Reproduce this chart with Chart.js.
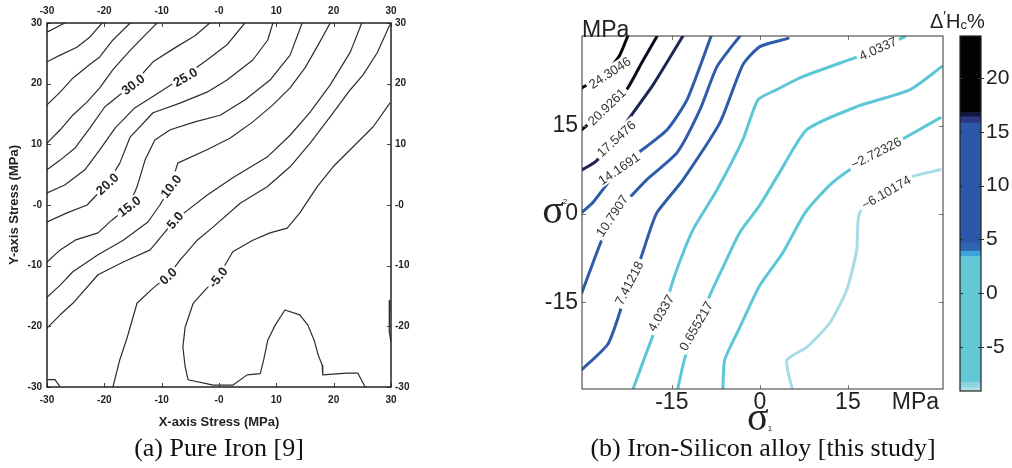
<!DOCTYPE html>
<html>
<head>
<meta charset="utf-8">
<script src="https://cdn.jsdelivr.net/npm/chart.js@4.4.1/dist/chart.umd.min.js"></script>
<style>
  html, body { margin: 0; padding: 0; background: #fff; }
  #page { position: relative; width: 1012px; height: 468px; overflow: hidden; }
  #page canvas { position: absolute; top: 0; }
  .cap { position: absolute; top: 434px; width: 420px; text-align: center; white-space: nowrap;
         font: 26px "Liberation Serif", "Times New Roman", serif; color: #111; line-height: 28px; }
</style>
</head>
<body>
<div id="page">
  <canvas id="iron" width="430" height="440" style="left:0"></canvas>
  <canvas id="alloy" width="440" height="440" style="left:520px"></canvas>
  <canvas id="cbar" width="92" height="440" style="left:920px"></canvas>
  <div class="cap" style="left:9px">(a) Pure Iron [9]</div>
  <div class="cap" style="left:553px">(b) Iron-Silicon alloy [this study]</div>
</div>
<script>
// ---- (a) pure iron: contour lines, [x stress, y stress] in MPa ----
var ironTicks = [-30, -20, -10, 0, 10, 20, 30];
var ironLevels = [50, 45, 40, 35, 30, 25, 20, 15, 10, 5, 0, -5];
var iron50 = [[-30, 28.5], [-26.9, 30]];
var iron45 = [[-30, 23.6], [-27.7, 24.7], [-24.8, 26.0], [-22.5, 27.7], [-20.4, 30]];
var iron40 = [[-30, 16.5], [-27.7, 18.6], [-25.5, 20.9], [-22.5, 23.2], [-20.8, 24.4], [-18.5, 27.2], [-15.5, 30]];
var iron35 = [[-30, 10.2], [-27.7, 12.4], [-25.5, 14.8], [-23.0, 17.0], [-20.8, 19.3], [-18.5, 22.3], [-15.5, 25.5], [-12.9, 28.0], [-10.8, 30]];
var iron30 = [[-30, 5.8], [-27.7, 7.4], [-25.1, 9.4], [-22.5, 12.7], [-19.9, 16.2], [-15.0, 19.9], [-11.5, 23.6], [-7.7, 25.9], [-4.2, 27.9], [-1.6, 30]];
var iron25 = [[-30, 2.0], [-26.9, 3.3], [-23.4, 5.8], [-20.8, 9.1], [-18.1, 12.7], [-14.7, 16.0], [-11.2, 18.1], [-5.9, 21.3], [-2.1, 23.9], [1.4, 26.4], [4.5, 30]];
var iron20 = [[-30, -2.8], [-26.5, -1.3], [-23.0, 0], [-19.5, 3.5], [-17.3, 6.9], [-15.5, 11.2], [-11.5, 15.2], [-6.8, 16.8], [-2.1, 18.6], [1.4, 20.6], [5.9, 23.9], [8.5, 27.2], [9.4, 30]];
var iron15 = [[-30, -9.4], [-27.7, -7.4], [-25.1, -5.8], [-21.1, -4.6], [-18.7, -2.5], [-15.7, -0.2], [-14.3, 3.0], [-12.9, 7.4], [-11.2, 10.7], [-8.5, 12.4], [-4.2, 13.7], [0.2, 14.8], [4.5, 17.3], [8.9, 20.6], [12.4, 24.7], [14.5, 30]];
var iron10 = [[-30, -15.2], [-27.7, -13.2], [-25.5, -11.0], [-21.1, -8.2], [-16.7, -5.8], [-12.4, -2.8], [-10.3, 0], [-8.4, 3.1], [-7.2, 6.9], [-2.1, 9.1], [1.9, 11.0], [5.9, 13.7], [9.4, 16.5], [12.4, 19.3], [15.0, 22.6], [17.3, 26.4], [19.4, 30]];
var iron5 = [[-30, -20.3], [-27.7, -18.1], [-25.5, -16.2], [-21.1, -11.5], [-16.7, -9.4], [-12.0, -7.4], [-9.8, -4.9], [-7.7, -2.5], [-5.4, -0.8], [-2.1, 1.6], [2.4, 4.5], [8.4, 7.9], [12.4, 11.5], [15.9, 15.3], [19.4, 19.8], [22.9, 25.2], [24.9, 30]];
var iron0 = [[-18.5, -30], [-17.3, -25.5], [-16.0, -21.8], [-14.3, -16.2], [-11.5, -13.7], [-8.9, -11.7], [-6.8, -9.1], [-3.8, -5.8], [-1.0, -3.6], [3.7, 0.3], [8.4, 3.0], [12.4, 6.3], [15.9, 10.2], [19.9, 15.2], [22.9, 19.0], [25.1, 21.4], [27.6, 25.1], [29.8, 29.7]];
var ironM5 = [[29.8, 16.8], [26.9, 12.9], [23.4, 9.6], [19.9, 6.3], [17.1, 3.0], [14.1, -1.3], [11.9, -3.8], [8.9, -4.6], [5.9, -5.8], [2.4, -7.7], [-0.2, -11.9], [-2.4, -14.0], [-4.5, -16.2], [-5.9, -20.1], [-6.3, -23.4], [-5.9, -26.7], [-5.4, -28.8], [-1.0, -29.7], [2.4, -29.7], [4.9, -28.0], [7.2, -27.8], [7.8, -25.5], [8.5, -22.3], [9.8, -19.8], [11.5, -17.3], [14.1, -18.1], [15.5, -19.8], [16.6, -22.3], [17.3, -24.7], [18.0, -26.4], [18.1, -28.0], [22.3, -27.7], [24.2, -27.7], [25.5, -30]];
var ironCorner = [[-30, -28.8], [-28.6, -28.8], [-27.7, -30]];
var ironEdge = [[29.8, -15.7], [29.7, -18.6], [29.7, -20.9], [30, -22.6]];
var ironLabelText = ['30.0', '25.0', '20.0', '15.0', '10.0', '5.0', '0.0', '-5.0'];
var ironLabelX = [-15.0, -5.9, -19.5, -15.7, -8.4, -7.7, -8.9, -0.2];
var ironLabelY = [19.9, 21.1, 3.5, -0.2, 3.1, -2.5, -11.7, -11.9];
var ironLabelAngle = [-37, -30, -42, -37, -52, -50, -43, -52];

// ---- (b) iron-silicon alloy: contour lines, [sigma1, sigma2] in MPa ----
var alloyTicks = [-15, 0, 15];
var alloyUnitTick = 26.5;
var alloyLevels = [24.3046, 20.9261, 17.5476, 14.1691, 10.7907, 7.41218, 4.0337, 0.655217, -2.72326, -6.10174];
var alloy243 = [[-30.3, 21.4], [-26.4, 23.8], [-23.9, 26.9], [-22.5, 30.2]];
var alloy209 = [[-30.3, 14.3], [-26.1, 18.0], [-22.7, 21.1], [-20.1, 25.7], [-17.5, 30.2]];
var alloy175 = [[-30.3, 7.5], [-28.1, 8.8], [-24.7, 12.2], [-22.7, 15.6], [-18.2, 21.9], [-13.1, 30.2]];
var alloy142 = [[-30.3, 0.3], [-28.4, 2.0], [-24.0, 7.7], [-21.6, 9.7], [-15.8, 14.3], [-12.4, 19.4], [-8.3, 30.2]];
var alloy108 = [[-30.3, -13.3], [-27.3, -5.3], [-25.2, -0.3], [-23.0, 1.9], [-19.3, 5.8], [-14.1, 10.4], [-10.2, 17.7], [-7.3, 25.0], [-3.4, 30.2]];
var alloy74 = [[-30.3, -26.4], [-25.9, -22.1], [-23.9, -16.8], [-22.3, -11.7], [-20.4, -7.8], [-18.7, -2.7], [-17.5, 0.3], [-13.1, 5.8], [-6.8, 15.5], [-2.9, 25.3], [0, 28.4], [4.8, 29.8]];
var alloy40 = [[-21.6, -29.7], [-18.2, -20.6], [-16.5, -16.8], [-14.5, -10.4], [-11.4, -2.7], [-7.3, 4.1], [-2.9, 12.6], [-0.3, 19.4], [2.9, 21.1], [6.8, 23.1], [15.3, 26.2], [20.1, 27.9], [24.7, 30.1]];
var alloy07 = [[-14.0, -29.7], [-12.8, -24.5], [-10.9, -19.0], [-8.9, -14.6], [-6.5, -9.5], [-3.4, -3.1], [0, 1.5], [3.4, 7.1], [8.0, 14.3], [16.5, 18.2], [25.6, 21.1], [31.0, 25.0]];
var alloyM27 = [[-6.3, -29.7], [-6.0, -24.8], [-3.4, -19.2], [0, -12.1], [3.9, -6.6], [7.7, 0.2], [11.9, 4.9], [15.3, 7.5], [19.9, 10.4], [25.0, 13.1], [30.7, 16.3]];
var alloyM61 = [[5.5, -29.7], [4.6, -24.8], [8.0, -22.6], [11.9, -18.5], [14.8, -12.9], [16.5, -6.1], [17.0, 0.2], [21.5, 3.7], [25.9, 6.3], [30.7, 7.5]];
var alloyLabelText = ['24.3046', '20.9261', '17.5476', '14.1691', '10.7907', '7.41218', '4.0337', '0.655217', '4.0337', '\u22122.72326', '\u22126.10174'];
var alloyLabelX = [-25.6, -26.1, -24.5, -24.0, -25.2, -22.3, -16.9, -10.9, 20.1, 19.8, 21.5];
var alloyLabelY = [24.0, 18.2, 12.8, 7.7, -0.3, -11.7, -16.8, -19.0, 28.1, 10.4, 3.7];
var alloyLabelAngle = [-33, -44, -42, -34, -56, -63, -60, -60, -24, -27, -30];

// colour bar (Δ'Hc %)
var cbTickValues = [-5, 0, 5, 10, 15, 20];
var cbEdges = [-9.1, -8.8, -8.3, 3.4, 3.9, 4.6, 15.8, 16.4, 16.8, 23.9];

// styles
var alloyColors = ['#050505', '#0c0c1c', '#1f2456', '#2f5ca9', '#2f5ca9', '#2f5ca9', '#5cc7d6', '#5cc7d6', '#5cc7d6', '#a6dce6'];
var cbColors = ['#b0e0e8', '#8fd4de', '#63c8d6', '#3aa5dc', '#2e66b4', '#2b58a8', '#2b3a7e', '#15163e', '#030303'];

var ironLines = [iron50, iron45, iron40, iron35, iron30, iron25, iron20, iron15, iron10, iron5, iron0, ironM5, ironCorner, ironEdge];
var alloyLines = [alloy243, alloy209, alloy175, alloy142, alloy108, alloy74, alloy40, alloy07, alloyM27, alloyM61];

Chart.defaults.font.family = '"Liberation Sans", Arial, sans-serif';

function lineSet(points, color, width, tension) {
  return {
    data: points.map(function (p) { return { x: p[0], y: p[1] }; }),
    showLine: true, pointRadius: 0, pointHoverRadius: 0,
    borderColor: color, borderWidth: width, borderCapStyle: 'round', borderJoinStyle: 'round',
    tension: tension, fill: false
  };
}

function fixedTicks(values) {
  return function (scale) { scale.ticks = values.map(function (v) { return { value: v }; }); };
}

function labelItems(text, xs, ys, angles) {
  return text.map(function (t, i) { return { text: t, x: xs[i], y: ys[i], angle: angles[i] }; });
}

// contour labels sit on a white box over the line
var contourLabels = {
  id: 'contourLabels',
  afterDatasetsDraw: function (chart, args, o) {
    var ctx = chart.ctx;
    ctx.save();
    ctx.font = o.font;
    ctx.textAlign = 'center';
    ctx.textBaseline = 'middle';
    o.items.forEach(function (it) {
      var px = chart.scales.x.getPixelForValue(it.x);
      var py = chart.scales.y.getPixelForValue(it.y);
      ctx.save();
      ctx.translate(px, py);
      ctx.rotate(it.angle * Math.PI / 180);
      var w = ctx.measureText(it.text).width;
      ctx.fillStyle = '#fff';
      ctx.fillRect(-w / 2 - o.pad, -o.h / 2, w + 2 * o.pad, o.h);
      ctx.fillStyle = o.color;
      ctx.fillText(it.text, 0, 1);
      ctx.restore();
    });
    ctx.restore();
  }
};

// box around the plot and small inward tick marks
var frameTicks = {
  id: 'frameTicks',
  afterDraw: function (chart, args, o) {
    var a = chart.chartArea, ctx = chart.ctx;
    ctx.save();
    ctx.strokeStyle = o.tickColor;
    ctx.lineWidth = 1;
    ctx.beginPath();
    (o.x || []).forEach(function (v) {
      var p = Math.round(chart.scales.x.getPixelForValue(v)) + 0.5;
      ctx.moveTo(p, a.bottom); ctx.lineTo(p, a.bottom - o.len);
      ctx.moveTo(p, a.top); ctx.lineTo(p, a.top + o.len);
    });
    (o.y || []).forEach(function (v) {
      var p = Math.round(chart.scales.y.getPixelForValue(v)) + 0.5;
      ctx.moveTo(a.left, p); ctx.lineTo(a.left + o.len, p);
      ctx.moveTo(a.right, p); ctx.lineTo(a.right - o.len - 0, p);
      if (o.out) { ctx.moveTo(a.right, p); ctx.lineTo(a.right + o.out, p); }
    });
    ctx.stroke();
    ctx.strokeStyle = o.color;
    ctx.lineWidth = o.width;
    ctx.strokeRect(a.left, a.top, a.right - a.left, a.bottom - a.top);
    ctx.restore();
  }
};

var hidden = { legend: { display: false }, tooltip: { enabled: false } };
var noGrid = { display: false, drawTicks: false };

// ---------- chart (a) ----------
var ironTickFont = { size: 10, weight: 'bold' };
function ironFmt(v) { return v === 0 ? '-0' : String(v); }

new Chart(document.getElementById('iron'), {
  type: 'scatter',
  data: { datasets: ironLines.map(function (l) { return lineSet(l, '#2c2c2c', 1.2, 0); }) },
  options: {
    responsive: false, animation: false,
    layout: { padding: 0 },
    plugins: {
      legend: hidden.legend, tooltip: hidden.tooltip,
      contourLabels: { items: labelItems(ironLabelText, ironLabelX, ironLabelY, ironLabelAngle),
                       font: 'bold 13px "Liberation Sans", Arial, sans-serif', color: '#222', pad: 2, h: 12 },
      frameTicks: { x: ironTicks, y: ironTicks, len: 4, tickColor: '#444', color: '#222', width: 1.5 }
    },
    scales: {
      x: { type: 'linear', position: 'bottom', min: -30, max: 30,
           afterBuildTicks: fixedTicks(ironTicks), afterFit: function (s) { s.height = 53; },
           grid: noGrid, border: { display: false },
           ticks: { font: ironTickFont, color: '#222', padding: 7, callback: ironFmt },
           title: { display: true, text: 'X-axis Stress (MPa)', color: '#222',
                    font: { size: 13, weight: 'bold' }, padding: { top: 0, bottom: 10 } } },
      xTop: { type: 'linear', position: 'top', min: -30, max: 30,
              afterBuildTicks: fixedTicks(ironTicks), afterFit: function (s) { s.height = 23; },
              grid: noGrid, border: { display: false },
              ticks: { font: ironTickFont, color: '#222', padding: 6, callback: ironFmt } },
      y: { type: 'linear', position: 'left', min: -30, max: 30,
           afterBuildTicks: fixedTicks(ironTicks), afterFit: function (s) { s.width = 47; },
           grid: noGrid, border: { display: false },
           ticks: { font: ironTickFont, color: '#222', padding: 5, callback: ironFmt },
           title: { display: true, text: 'Y-axis Stress (MPa)', color: '#222',
                    font: { size: 13, weight: 'bold' }, padding: { top: 7, bottom: 0 } } },
      yRight: { type: 'linear', position: 'right', min: -30, max: 30,
                afterBuildTicks: fixedTicks(ironTicks), afterFit: function (s) { s.width = 39; },
                grid: noGrid, border: { display: false },
                ticks: { font: ironTickFont, color: '#222', padding: 4, callback: ironFmt } }
    }
  },
  plugins: [contourLabels, frameTicks]
});

// ---------- chart (b) ----------
var alloyExtras = {
  id: 'alloyExtras',
  afterDraw: function (chart) {
    var a = chart.chartArea, ctx = chart.ctx;
    var y0 = chart.scales.y.getPixelForValue(0);
    var x0 = chart.scales.x.getPixelForValue(0);
    ctx.save();
    ctx.fillStyle = '#222';
    ctx.textBaseline = 'alphabetic';
    ctx.textAlign = 'left';
    ctx.font = '23px "Liberation Sans", Arial, sans-serif';
    ctx.fillText('MPa', a.left, a.top + 1);
    ctx.textAlign = 'center';
    ctx.font = '40px "Liberation Serif", "Times New Roman", serif';
    ctx.fillText('\u03c3', a.left - 29, y0 + 9);
    ctx.fillText('\u03c3', x0 - 2, a.bottom + 41);
    ctx.font = '8px "Liberation Sans", Arial, sans-serif';
    ctx.fillText('2', a.left - 17, y0 - 10);
    ctx.fillText('1', x0 + 10, a.bottom + 42);
    ctx.restore();
  }
};

new Chart(document.getElementById('alloy'), {
  type: 'scatter',
  data: { datasets: alloyLines.map(function (l, i) { return lineSet(l, alloyColors[i], 3, 0.2); }) },
  options: {
    responsive: false, animation: false,
    layout: { padding: { top: 36, right: 17 } },
    plugins: {
      legend: hidden.legend, tooltip: hidden.tooltip,
      contourLabels: { items: labelItems(alloyLabelText, alloyLabelX, alloyLabelY, alloyLabelAngle),
                       font: '13px "Liberation Sans", Arial, sans-serif', color: '#333', pad: 3, h: 13 },
      frameTicks: { x: alloyTicks, y: alloyTicks, len: 4, tickColor: '#777', color: '#333', width: 1 }
    },
    scales: {
      x: { type: 'linear', position: 'bottom', min: -30.3, max: 31.2,
           afterBuildTicks: fixedTicks(alloyTicks.concat([alloyUnitTick])),
           afterFit: function (s) { s.height = 51; },
           grid: noGrid, border: { display: false },
           ticks: { font: { size: 23 }, color: '#222', padding: 0,
                    callback: function (v) { return v === alloyUnitTick ? 'MPa' : String(v); } } },
      y: { type: 'linear', position: 'left', min: -29.7, max: 30.2,
           afterBuildTicks: fixedTicks(alloyTicks), afterFit: function (s) { s.width = 62; },
           grid: noGrid, border: { display: false },
           ticks: { font: { size: 23 }, color: '#222', padding: 4 } }
    }
  },
  plugins: [contourLabels, frameTicks, alloyExtras]
});

// ---------- colour bar ----------
var cbTitle = {
  id: 'cbTitle',
  afterDraw: function (chart) {
    var ctx = chart.ctx, a = chart.chartArea;
    var parts = [['\u0394', 20, 0], ['\u2032', 14, -7], ['H', 20, 0], ['c', 13, 1], ['%', 20, 0]];
    var x = a.left - 30, base = a.top - 8;
    ctx.save();
    ctx.fillStyle = '#222';
    ctx.textBaseline = 'alphabetic';
    ctx.textAlign = 'left';
    parts.forEach(function (p) {
      ctx.font = p[1] + 'px "Liberation Sans", Arial, sans-serif';
      ctx.fillText(p[0], x, base + p[2]);
      x += ctx.measureText(p[0]).width;
    });
    ctx.restore();
  }
};

new Chart(document.getElementById('cbar'), {
  type: 'bar',
  data: {
    labels: [''],
    datasets: cbEdges.slice(0, -1).map(function (lo, i) {
      return { data: [[lo, cbEdges[i + 1]]], backgroundColor: cbColors[i], borderWidth: 0,
               grouped: false, barPercentage: 1, categoryPercentage: 1 };
    })
  },
  options: {
    responsive: false, animation: false,
    layout: { padding: { left: 40, top: 36, bottom: 49 } },
    plugins: {
      legend: hidden.legend, tooltip: hidden.tooltip,
      frameTicks: { y: cbTickValues, len: 3, out: 3, tickColor: '#333', color: '#222', width: 1.2 }
    },
    scales: {
      x: { display: false },
      y: { position: 'right', min: -9.1, max: 23.9,
           afterBuildTicks: fixedTicks(cbTickValues), afterFit: function (s) { s.width = 31; },
           grid: noGrid, border: { display: false },
           ticks: { font: { size: 21 }, color: '#222', padding: 5 } }
    }
  },
  plugins: [frameTicks, cbTitle]
});
</script>
</body>
</html>
